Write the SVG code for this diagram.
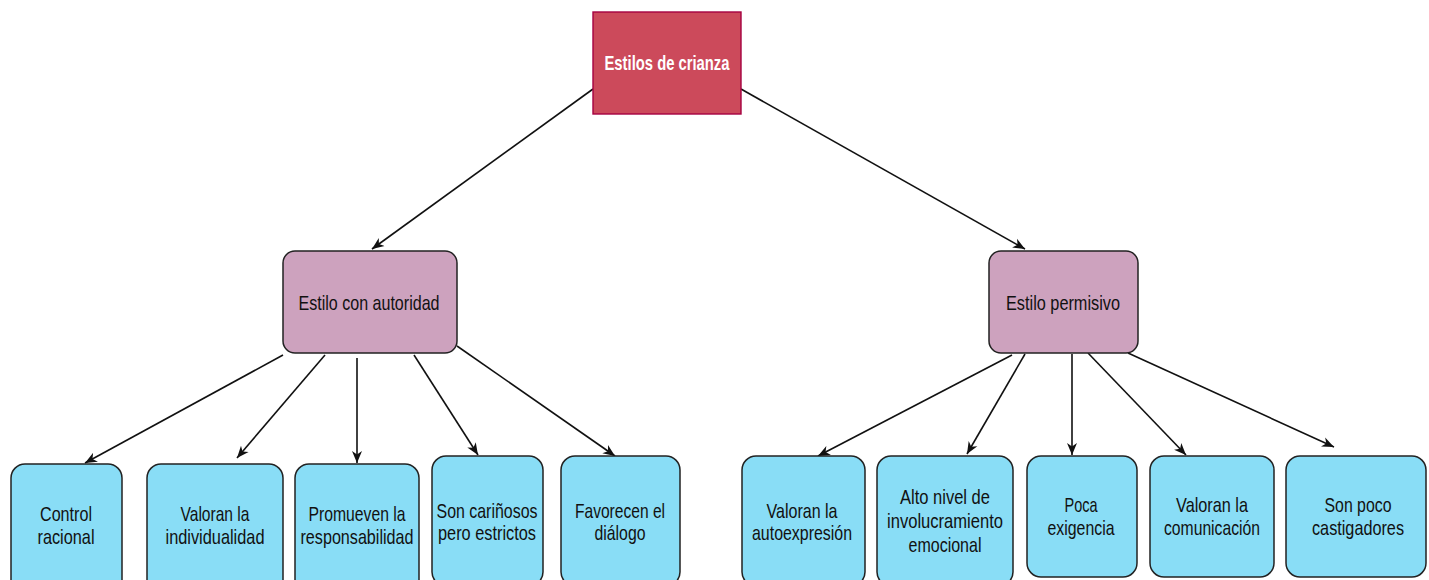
<svg xmlns="http://www.w3.org/2000/svg" width="1429" height="580" viewBox="0 0 1429 580">
<style>
.t{font-family:"Liberation Sans",Arial,sans-serif;font-size:21px;fill:#111111;text-anchor:middle}
.w{fill:#ffffff;font-weight:bold}
.root{fill:#CC4A5B;stroke:#A50040;stroke-width:1.4}
.mid{fill:#CDA2BE;stroke:#222222;stroke-width:1.5}
.leaf{fill:#89DDF6;stroke:#222222;stroke-width:1.5}
.c{stroke:#111111;stroke-width:1.6;fill:none;marker-end:url(#arr)}
</style>
<defs>
<marker id="arr" markerUnits="userSpaceOnUse" markerWidth="14" markerHeight="14" refX="12" refY="7" orient="auto">
<path d="M0,2 L12,7 L0,12 L3.5,7 Z" fill="#111111"/>
</marker>
</defs>
<g id="connectors">
<line class="c" x1="593" y1="89" x2="372" y2="249"/>
<line class="c" x1="741" y1="89" x2="1025" y2="249"/>
<line class="c" x1="283" y1="355" x2="85" y2="463"/>
<line class="c" x1="325" y1="355" x2="237" y2="458"/>
<line class="c" x1="357" y1="358" x2="357" y2="463"/>
<line class="c" x1="414" y1="355" x2="478" y2="455"/>
<line class="c" x1="457" y1="346" x2="615" y2="456"/>
<line class="c" x1="1012" y1="355" x2="818" y2="456"/>
<line class="c" x1="1025" y1="354" x2="967" y2="454"/>
<line class="c" x1="1072" y1="354" x2="1072" y2="455"/>
<line class="c" x1="1088" y1="353" x2="1186" y2="455"/>
<line class="c" x1="1128" y1="353" x2="1334" y2="447"/>
</g>
<g id="root">
<rect class="root" x="593" y="12" width="148" height="102"/>
<text class="t w" x="667" y="70" textLength="125" lengthAdjust="spacingAndGlyphs">Estilos de crianza</text>
</g>
<g id="autoridad">
<rect class="mid" x="283" y="251" width="174" height="102" rx="12"/>
<text class="t" x="369" y="310" textLength="141" lengthAdjust="spacingAndGlyphs">Estilo con autoridad</text>
</g>
<g id="permisivo">
<rect class="mid" x="989" y="251" width="149" height="102" rx="12"/>
<text class="t" x="1063" y="310" textLength="114" lengthAdjust="spacingAndGlyphs">Estilo permisivo</text>
</g>
<g id="control">
<rect class="leaf" x="11" y="464" width="111" height="130" rx="14"/>
<text class="t" x="66" y="521" textLength="52" lengthAdjust="spacingAndGlyphs">Control</text>
<text class="t" x="66" y="544" textLength="57" lengthAdjust="spacingAndGlyphs">racional</text>
</g>
<g id="individualidad">
<rect class="leaf" x="147" y="464" width="136" height="130" rx="14"/>
<text class="t" x="215" y="521" textLength="69" lengthAdjust="spacingAndGlyphs">Valoran la</text>
<text class="t" x="215" y="544" textLength="99" lengthAdjust="spacingAndGlyphs">individualidad</text>
</g>
<g id="responsabilidad">
<rect class="leaf" x="295" y="464" width="124" height="130" rx="14"/>
<text class="t" x="357" y="521" textLength="97" lengthAdjust="spacingAndGlyphs">Promueven la</text>
<text class="t" x="357" y="544" textLength="113" lengthAdjust="spacingAndGlyphs">responsabilidad</text>
</g>
<g id="carinosos">
<rect class="leaf" x="432" y="456" width="111" height="130" rx="14"/>
<text class="t" x="487" y="518" textLength="101" lengthAdjust="spacingAndGlyphs">Son cariñosos</text>
<text class="t" x="487" y="540" textLength="98" lengthAdjust="spacingAndGlyphs">pero estrictos</text>
</g>
<g id="dialogo">
<rect class="leaf" x="561" y="456" width="119" height="130" rx="14"/>
<text class="t" x="620" y="518" textLength="90" lengthAdjust="spacingAndGlyphs">Favorecen el</text>
<text class="t" x="620" y="540" textLength="51" lengthAdjust="spacingAndGlyphs">diálogo</text>
</g>
<g id="autoexpresion">
<rect class="leaf" x="742" y="456" width="123" height="130" rx="14"/>
<text class="t" x="802" y="518" textLength="71" lengthAdjust="spacingAndGlyphs">Valoran la</text>
<text class="t" x="802" y="540" textLength="100" lengthAdjust="spacingAndGlyphs">autoexpresión</text>
</g>
<g id="involucramiento">
<rect class="leaf" x="877" y="456" width="136" height="130" rx="14"/>
<text class="t" x="945" y="504" textLength="90" lengthAdjust="spacingAndGlyphs">Alto nivel de</text>
<text class="t" x="945" y="528" textLength="116" lengthAdjust="spacingAndGlyphs">involucramiento</text>
<text class="t" x="945" y="552" textLength="73" lengthAdjust="spacingAndGlyphs">emocional</text>
</g>
<g id="exigencia">
<rect class="leaf" x="1027" y="456" width="110" height="121" rx="14"/>
<text class="t" x="1081" y="512" textLength="33" lengthAdjust="spacingAndGlyphs">Poca</text>
<text class="t" x="1081" y="535" textLength="67" lengthAdjust="spacingAndGlyphs">exigencia</text>
</g>
<g id="comunicacion">
<rect class="leaf" x="1150" y="456" width="124" height="121" rx="14"/>
<text class="t" x="1212" y="512" textLength="72" lengthAdjust="spacingAndGlyphs">Valoran la</text>
<text class="t" x="1212" y="535" textLength="96" lengthAdjust="spacingAndGlyphs">comunicación</text>
</g>
<g id="castigadores">
<rect class="leaf" x="1286" y="456" width="140" height="121" rx="14"/>
<text class="t" x="1358" y="512" textLength="67" lengthAdjust="spacingAndGlyphs">Son poco</text>
<text class="t" x="1358" y="535" textLength="92" lengthAdjust="spacingAndGlyphs">castigadores</text>
</g>
</svg>
